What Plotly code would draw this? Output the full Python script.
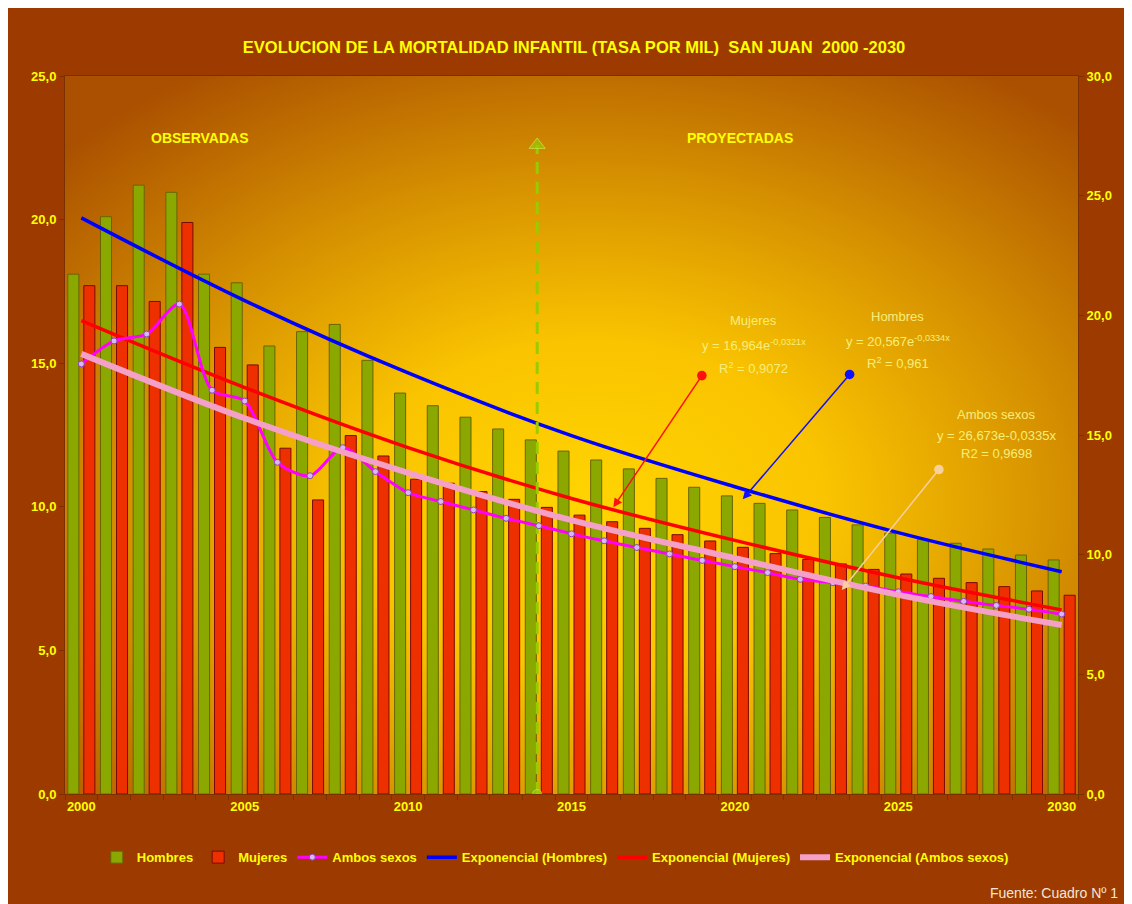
import base64

import plotly.graph_objects as go

# datos (tasa por mil)
anios = list(range(2000, 2031))
hombres = [18.1, 20.1, 21.2, 20.95, 18.1, 17.8, 15.6, 16.1, 16.35, 15.1, 13.96, 13.52, 13.12, 12.71, 12.33, 11.94,
           11.63, 11.32, 10.99, 10.68, 10.38, 10.12, 9.89, 9.63, 9.37, 9.08, 8.87, 8.73, 8.53, 8.32, 8.15]
mujeres = [17.7, 17.7, 17.15, 19.9, 15.55, 14.94, 12.04, 10.24, 12.48, 11.77, 10.96, 10.82, 10.53, 10.26, 9.98, 9.71,
           9.48, 9.25, 9.03, 8.81, 8.59, 8.37, 8.17, 8.01, 7.82, 7.66, 7.51, 7.36, 7.22, 7.07, 6.92]
ambos = [17.97, 18.93, 19.22, 20.47, 16.87, 16.42, 13.86, 13.3, 14.47, 13.47, 12.59, 12.22, 11.87, 11.52, 11.21, 10.87,
         10.58, 10.3, 10.03, 9.76, 9.5, 9.25, 8.97, 8.83, 8.69, 8.45, 8.25, 8.05, 7.88, 7.72, 7.52]

# lineas de tendencia (leidas cada 5 anios)
anios_tend = [2000, 2005, 2010, 2015, 2020, 2025, 2030]
tend_hombres = [20.06, 17.18, 14.66, 12.48, 10.7, 9.1, 7.74]
tend_mujeres = [16.48, 14.15, 12.06, 10.29, 8.83, 7.53, 6.41]
tend_ambos = [18.39, 15.7, 13.42, 11.44, 9.85, 8.32, 7.06]

ticks_x = [2000, 2005, 2010, 2015, 2020, 2025, 2030]
ticks_izq = [0, 5, 10, 15, 20, 25]
ticks_der = [0, 5, 10, 15, 20, 25, 30]

FONT = 'Liberation Sans, Arial, sans-serif'
AMARILLO = '#ffff00'
TEXTO_EC = '#f6ee7a'

# fondo degradado del area de trazado
svg = '''<svg xmlns="http://www.w3.org/2000/svg" width="1013" height="718" viewBox="0 0 1013 718" preserveAspectRatio="none">
<defs><radialGradient id="g" cx="0.52" cy="0.6" r="0.72">
<stop offset="0" stop-color="#ffd400"/><stop offset="0.32" stop-color="#fac400"/>
<stop offset="0.62" stop-color="#d89400"/><stop offset="1" stop-color="#aa5000"/>
</radialGradient></defs><rect width="1013" height="718" fill="url(#g)"/></svg>'''
fondo = 'data:image/svg+xml;base64,' + base64.b64encode(svg.encode()).decode()

fig = go.Figure()
fig.add_trace(go.Bar(x=anios, y=hombres, name='Hombres', marker=dict(color='#8aa800', line=dict(color='#6a6400', width=1))))
fig.add_trace(go.Bar(x=anios, y=mujeres, name='Mujeres', marker=dict(color='#ee3000', line=dict(color='#7a0a00', width=1))))
fig.add_trace(go.Scatter(x=anios, y=ambos, name='Ambos sexos', yaxis='y2', mode='lines+markers',
                         line=dict(color='#ff00ff', width=3, shape='spline', smoothing=0.8),
                         marker=dict(symbol='circle', size=6, color='#d8b8f0', line=dict(color='#9040c0', width=1))))
fig.add_trace(go.Scatter(x=anios_tend, y=tend_hombres, name='Exponencial (Hombres)', mode='lines',
                         line=dict(color='#0000ff', width=3.5, shape='spline')))
fig.add_trace(go.Scatter(x=anios_tend, y=tend_mujeres, name='Exponencial (Mujeres)', mode='lines',
                         line=dict(color='#ff0000', width=3.5, shape='spline')))
fig.add_trace(go.Scatter(x=anios_tend, y=tend_ambos, name='Exponencial (Ambos sexos)', yaxis='y2', mode='lines',
                         line=dict(color='#f5a0c8', width=6, shape='spline')))

# division observadas / proyectadas
fig.add_trace(go.Scatter(x=[2013.95, 2013.95], y=[0, 22.6], mode='lines+markers', showlegend=False, hoverinfo='skip',
                         line=dict(color='#99cc00', width=3, dash='12px,8px'),
                         marker=dict(symbol=['circle', 'triangle-up'], size=[9, 14], color='#99cc00',
                                     line=dict(color='#c8ee60', width=1))))

anots = [
    dict(x=2003.64, y=22.84, text='<b>OBSERVADAS</b>', font=dict(size=14, color=AMARILLO, family=FONT)),
    dict(x=2020.15, y=22.84, text='<b>PROYECTADAS</b>', font=dict(size=14, color=AMARILLO, family=FONT)),
    dict(x=2020.58, y=16.47, text='Mujeres'),
    dict(x=2020.58, y=15.63, text='y = 16,964e<sup>-0,0321x</sup>'),
    dict(x=2020.58, y=14.83, text='R<sup>2</sup> = 0,9072'),
    dict(x=2024.99, y=16.61, text='Hombres'),
    dict(x=2024.99, y=15.77, text='y = 20,567e<sup>-0,0334x</sup>'),
    dict(x=2024.99, y=15.01, text='R<sup>2</sup> = 0,961'),
    dict(x=2028.02, y=13.2, text='Ambos sexos'),
    dict(x=2028.02, y=12.47, text='y = 26,673e-0,0335x'),
    dict(x=2028.02, y=11.84, text='R2 = 0,9698'),
]
for a in anots:
    a.setdefault('font', dict(size=13, color=TEXTO_EC, family=FONT))
    a.update(xref='x', yref='y', showarrow=False)

flechas = [
    (2016.28, 9.98, 2019.02, 14.62, '#ff1010'),
    (2020.24, 10.26, 2023.55, 14.66, '#1010ff'),
    (2023.27, 7.10, 2026.28, 11.35, '#f8d0a0'),
]
for x, y, ax, ay, col in flechas:
    anots.append(dict(x=x, y=y, ax=ax, ay=ay, xref='x', yref='y', axref='x', ayref='y', text='', showarrow=True,
                      arrowhead=2, arrowsize=1.2, arrowwidth=1.5, arrowcolor=col, arrowside='end+start',
                      startarrowhead=6, startarrowsize=1.6))

anots.append(dict(x=1.0415, y=-0.138, xref='paper', yref='paper', xanchor='right', yanchor='middle', showarrow=False,
                  text='Fuente: Cuadro Nº 1', font=dict(size=14, color='#f4e6d8', family=FONT)))

fig.update_layout(
    width=1124, height=896,
    margin=dict(l=57, r=54, t=68, b=110),
    paper_bgcolor='#9c3a00', plot_bgcolor='#c07000',
    separators=',.',
    barmode='group', bargap=0.02, bargroupgap=0.31,
    title=dict(text='<b>EVOLUCION DE LA MORTALIDAD INFANTIL (TASA POR MIL)  SAN JUAN  2000 -2030</b>',
               x=0.5036, xanchor='center', y=0.9565, yanchor='middle',
               font=dict(size=16.5, color=AMARILLO, family=FONT)),
    font=dict(family=FONT, color=AMARILLO, size=13),
    xaxis=dict(range=[1999.5, 2030.5], tickmode='array', tickvals=ticks_x, ticks='', showgrid=False, zeroline=False,
               showline=True, linecolor='#7a3000', linewidth=1, mirror=True,
               minor=dict(ticks='outside', tick0=1999.5, dtick=1, ticklen=5, tickcolor='#7a3000', showgrid=False),
               tickfont=dict(size=13, color=AMARILLO, family=FONT, weight='bold')),
    yaxis=dict(range=[0, 25], tickmode='array', tickvals=ticks_izq, tickformat='.1f', ticks='outside', ticklen=5,
               tickcolor='#7a3000', showgrid=False, zeroline=False, showline=True, linecolor='#7a3000',
               tickfont=dict(size=13, color=AMARILLO, family=FONT, weight='bold')),
    yaxis2=dict(range=[0, 30], tickmode='array', tickvals=ticks_der, tickformat='.1f', overlaying='y', side='right',
                ticks='outside', ticklen=5, tickcolor='#7a3000', showgrid=False, zeroline=False, showline=True,
                linecolor='#7a3000', tickfont=dict(size=13, color=AMARILLO, family=FONT, weight='bold')),
    legend=dict(orientation='h', x=0.484, xanchor='center', y=-0.088, yanchor='middle', bgcolor='rgba(0,0,0,0)',
                font=dict(size=13, color=AMARILLO, family=FONT, weight='bold'), itemwidth=30, tracegroupgap=0),
    images=[dict(source=fondo, xref='paper', yref='paper', x=0, y=1, sizex=1, sizey=1, sizing='stretch',
                 xanchor='left', yanchor='top', layer='below')],
    annotations=anots,
    showlegend=True,
)

# sin barras de desplazamiento en la pagina
fig.write_html('out.html', post_script="document.documentElement.style.overflow='hidden';")
